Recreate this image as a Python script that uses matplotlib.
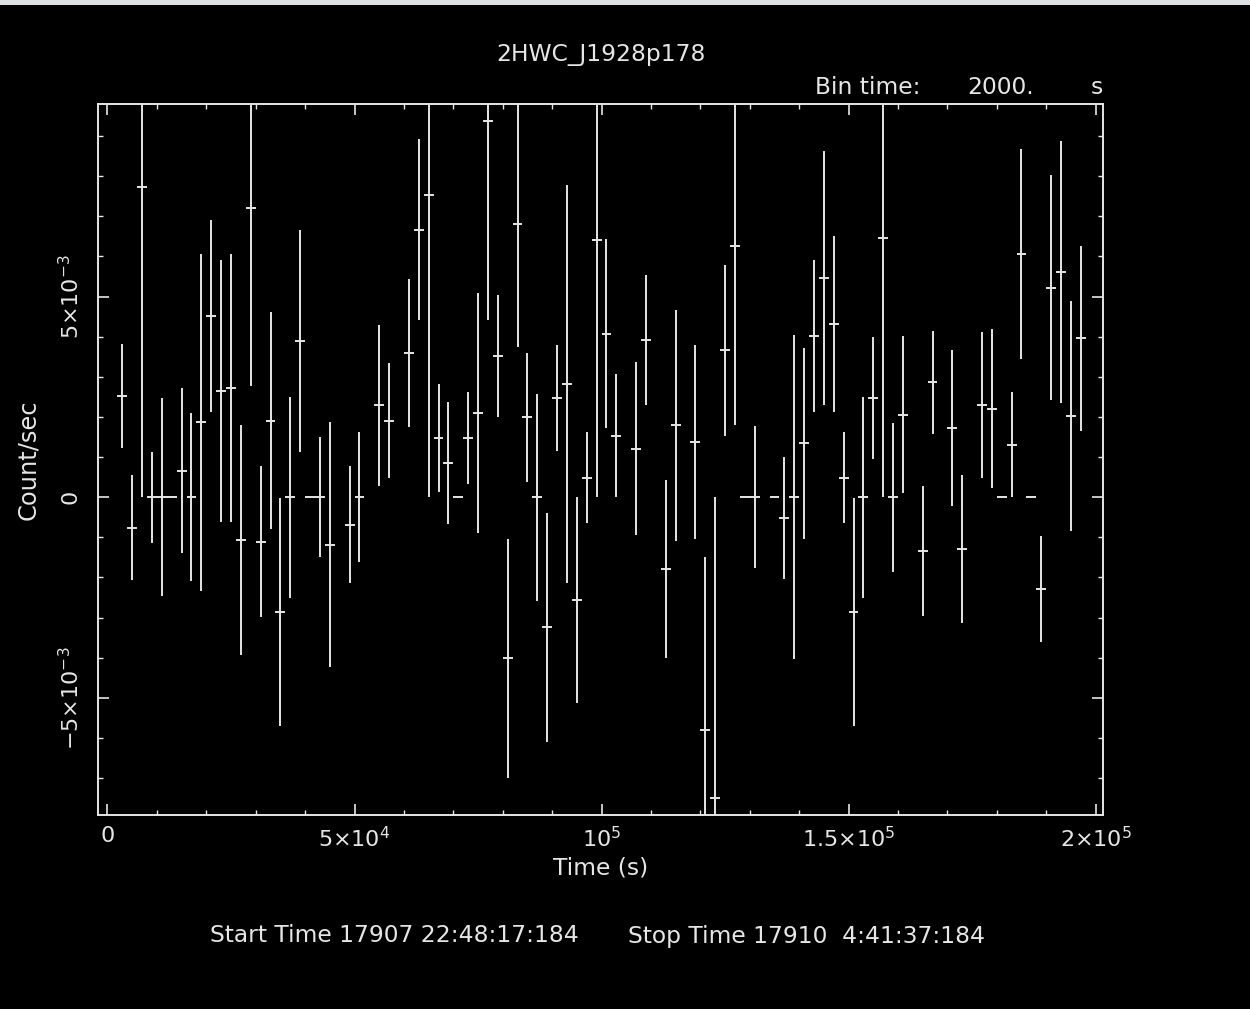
import matplotlib
matplotlib.use("Agg")
import matplotlib.pyplot as plt
from matplotlib.ticker import FixedLocator, MultipleLocator
from matplotlib.patches import Rectangle

# ---- data ----
time_s = [3000, 5000, 7000, 9000, 11000, 13000, 15000, 17000, 19000, 21000,
          23000, 25000, 27000, 29000, 31000, 33000, 35000, 37000, 39000, 41000,
          43000, 45000, 49000, 51000, 55000, 57000, 61000, 63000, 65000, 67000,
          69000, 71000, 73000, 75000, 77000, 79000, 81000, 83000, 85000, 87000,
          89000, 91000, 93000, 95000, 97000, 99000, 101000, 103000, 107000, 109000,
          113000, 115000, 119000, 121000, 123000, 125000, 127000, 129000, 131000, 135000,
          137000, 139000, 141000, 143000, 145000, 147000, 149000, 151000, 153000, 155000,
          157000, 159000, 161000, 165000, 167000, 171000, 173000, 177000, 179000, 181000,
          183000, 185000, 187000, 189000, 191000, 193000, 195000, 197000]
rate = [2.52, -0.76, 7.74, 0.0, 0.0, 0.0, 0.66, 0.0, 1.87, 4.51,
        2.64, 2.72, -1.07, 7.21, -1.11, 1.91, -2.86, 0.0, 3.89, 0.0,
        0.0, -1.18, -0.68, 0.0, 2.29, 1.91, 3.59, 6.67, 7.52, 1.48,
        0.85, 0.0, 1.48, 2.09, 9.38, 3.51, -4.01, 6.82, 1.99, 0.0,
        -3.24, 2.47, 2.82, -2.56, 0.49, 6.40, 4.08, 1.53, 1.21, 3.92,
        -1.79, 1.79, 1.38, -5.80, -7.50, 3.66, 6.26, 0.0, 0.0, 0.0,
        -0.53, 0.0, 1.34, 4.01, 5.46, 4.32, 0.49, -2.86, 0.0, 2.47,
        6.45, 0.0, 2.06, -1.33, 2.86, 1.72, -1.29, 2.29, 2.21, 0.0,
        1.31, 6.07, 0.0, -2.28, 5.22, 5.61, 2.02, 3.96]
rate_err = [1.30, 1.31, 7.74, 1.13, 2.47, 0.0, 2.06, 2.10, 4.20, 2.39,
            3.26, 3.33, 2.86, 4.44, 1.88, 2.70, 2.85, 2.50, 2.76, 0.0,
            1.50, 3.06, 1.47, 1.62, 2.00, 1.44, 1.85, 2.25, 7.52, 1.35,
            1.52, 0.0, 1.14, 2.99, 4.96, 1.52, 2.98, 3.07, 1.60, 2.58,
            2.85, 1.33, 4.95, 2.56, 1.13, 6.40, 2.36, 1.53, 2.15, 1.62,
            2.21, 2.88, 2.42, 4.32, 7.50, 2.13, 4.45, 0.0, 1.77, 0.0,
            1.52, 4.04, 2.38, 1.89, 3.16, 2.19, 1.13, 2.85, 2.50, 1.53,
            6.45, 1.86, 1.95, 1.62, 1.29, 1.95, 1.85, 1.82, 1.98, 0.0,
            1.30, 2.62, 0.0, 1.32, 2.80, 3.27, 2.87, 2.30]
bin_time = 2000.0
rate = [r * 1e-3 for r in rate]
rate_err = [e * 1e-3 for e in rate_err]

title = "2HWC_J1928p178"
xlabel = "Time (s)"
ylabel = "Count/sec"
xtick_vals = [0, 5e4, 1e5, 1.5e5, 2e5]
xtick_labels = ["0", r"$5{\times}10^{4}$", r"$10^{5}$", r"$1.5{\times}10^{5}$", r"$2{\times}10^{5}$"]
ytick_vals = [-5e-3, 0, 5e-3]
ytick_labels = [r"$-5{\times}10^{-3}$", "0", r"$5{\times}10^{-3}$"]
start_text = "Start Time 17907 22:48:17:184"
stop_text = "Stop Time 17910  4:41:37:184"

FG = "#e6e6e6"
FS = 16.8
W, H = 1250, 1009
fig = plt.figure(figsize=(W / 100, H / 100), dpi=100, facecolor="black")
plt.rcParams["mathtext.fontset"] = "dejavusans"

# light strip at the very top of the image
fig.patches.append(Rectangle((0, 1 - 5 / H), 1, 5 / H, transform=fig.transFigure,
                             facecolor="#dde1e6", edgecolor="none", zorder=0))

ax = fig.add_axes([98 / W, 1 - 815 / H, (1103 - 98) / W, (815 - 104) / H])
ax.set_facecolor("black")

ax.errorbar(time_s, rate, yerr=rate_err, xerr=bin_time / 2, fmt="none",
            ecolor=FG, elinewidth=1.4, capsize=0)

ax.set_xlim(-1920, 201500)
ax.set_ylim(-7.92e-3, 9.80e-3)

ax.xaxis.set_major_locator(FixedLocator(xtick_vals))
ax.set_xticklabels(xtick_labels)
ax.xaxis.set_minor_locator(MultipleLocator(1e4))
ax.yaxis.set_major_locator(FixedLocator(ytick_vals))
ax.yaxis.set_minor_locator(MultipleLocator(1e-3))
ax.set_yticklabels(ytick_labels, rotation=90, va="center", ha="center")

for s in ax.spines.values():
    s.set_color(FG)
    s.set_linewidth(1.4)

ax.tick_params(which="both", direction="in", top=True, right=True, colors=FG,
               labelcolor=FG, labelsize=16)
ax.tick_params(which="major", length=8, width=1.2)
ax.tick_params(which="minor", length=3.6, width=1.0)
ax.tick_params(axis="x", which="major", pad=8)
ax.tick_params(axis="y", which="major", pad=20)

ax.set_xlabel(xlabel, color=FG, fontsize=FS)
ax.xaxis.set_label_coords(0.5, -(868 - 815) / (815 - 104), transform=ax.transAxes)
ax.xaxis.label.set_va("center")
ax.set_ylabel(ylabel, color=FG, fontsize=FS + 0.6)
ax.yaxis.set_label_coords(-(98 - 28) / (1103 - 98), 0.5)
ax.yaxis.label.set_va("center")

fig.text(601 / W, 1 - 55 / H, title, color=FG, fontsize=FS, ha="center", va="center")
fig.text(815 / W, 1 - 87 / H, "Bin time:", color=FG, fontsize=FS, ha="left", va="center")
fig.text(967 / W, 1 - 87 / H, "2000.", color=FG, fontsize=FS, ha="left", va="center")
fig.text(1103 / W, 1 - 87 / H, "s", color=FG, fontsize=FS, ha="right", va="center")
fig.text(210 / W, 1 - 936 / H, start_text, color=FG, fontsize=FS, ha="left", va="center")
fig.text(628 / W, 1 - 936 / H, stop_text, color=FG, fontsize=FS, ha="left", va="center")

fig.savefig("out.png", dpi=100, facecolor="black")
